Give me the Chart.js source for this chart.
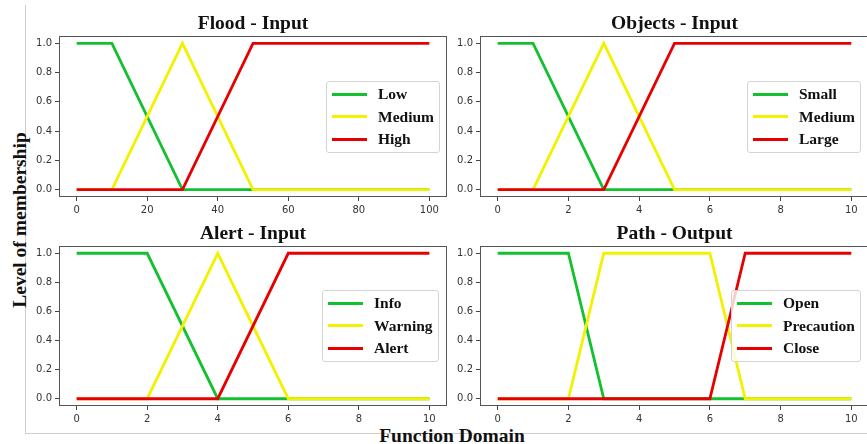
<!DOCTYPE html>
<html>
<head>
<meta charset="utf-8">
<script src="https://cdn.jsdelivr.net/npm/chart.js@4"></script>
<style>
  html, body { margin: 0; padding: 0; background: #fff; overflow: hidden; }
  #page { position: relative; width: 867px; height: 444px; overflow: hidden; }
  canvas { position: absolute; }
  .frameV { position: absolute; left: 25px; top: 5px; width: 1px; height: 428px; background: #cfcfcf; }
  .frameH { position: absolute; left: 25px; top: 433px; width: 842px; height: 1px; background: #cfcfcf; }
  .label { position: absolute; font-family: "Liberation Serif", serif; font-weight: bold; font-size: 19.5px; color: #111; white-space: nowrap; }
  .ylab { left: 20px; top: 220px; transform: translate(-50%, -50%) rotate(-90deg); }
  .xlab { left: 452px; top: 436px; transform: translate(-50%, -50%); }
  .legend { position: absolute; box-sizing: border-box; border: 1px solid #d4d4d4; border-radius: 3px;
            background: rgba(255, 255, 255, 0.8); padding: 1px 5px; font-family: "Liberation Serif", serif;
            font-weight: bold; font-size: 15.5px; color: #111; }
  .legend div { display: flex; align-items: center; height: 22.5px; white-space: nowrap; }
  .legend span.swatch { display: inline-block; width: 35px; height: 3px; margin-right: 11px; }
</style>
</head>
<body>
<div id="page">
  <div class="frameV"></div>
  <div class="frameH"></div>
  <div class="label ylab">Level of membership</div>
  <div class="label xlab">Function Domain</div>
</div>
<script>
// membership functions, sampled at their breakpoints
const floodX = [0, 10, 30, 50, 100];
const floodLow = [1, 1, 0, 0, 0];
const floodMedium = [0, 0, 1, 0, 0];
const floodHigh = [0, 0, 0, 1, 1];

const objectsX = [0, 1, 3, 5, 10];
const objectsSmall = [1, 1, 0, 0, 0];
const objectsMedium = [0, 0, 1, 0, 0];
const objectsLarge = [0, 0, 0, 1, 1];

const alertX = [0, 2, 4, 6, 10];
const alertInfo = [1, 1, 0, 0, 0];
const alertWarning = [0, 0, 1, 0, 0];
const alertAlert = [0, 0, 0, 1, 1];

const pathX = [0, 2, 3, 6, 7, 10];
const pathOpen = [1, 1, 0, 0, 0, 0];
const pathPrecaution = [0, 0, 1, 1, 0, 0];
const pathClose = [0, 0, 0, 0, 1, 1];

const ticks100 = [0, 20, 40, 60, 80, 100];
const ticks10 = [0, 2, 4, 6, 8, 10];
const ticksY = [0, 0.2, 0.4, 0.6, 0.8, 1.0];

const colores = ["#12c12f", "#f2f200", "#e60000"];

var page = document.getElementById("page");

// draws the four spines of the box
const marco = {
  id: "marco",
  afterDraw(chart) {
    let a = chart.chartArea;
    let c = chart.ctx;
    c.save();
    c.strokeStyle = "#555";
    c.lineWidth = 1;
    c.strokeRect(Math.round(a.left) + 0.5, Math.round(a.top) + 0.5,
                 Math.round(a.right - a.left) - 1, Math.round(a.bottom - a.top) - 1);
    c.restore();
  }
};

function serie(xs, ys) {
  return xs.map((x, i) => ({ x: x, y: ys[i] }));
}

function panel(titulo, xs, series, nombres, xTicks, xMin, xMax, frame, leyenda) {

  let canvas = document.createElement("canvas");
  let w = frame.r - frame.l + 45;
  let h = frame.b - frame.t + 32 + 22;
  canvas.width = w;
  canvas.height = h;
  canvas.style.left = (frame.l - 40) + "px";
  canvas.style.top = (frame.t - 32) + "px";
  page.appendChild(canvas);

  // last series on top, as in matplotlib
  let datasets = series.map((ys, i) => ({
    label: nombres[i],
    data: serie(xs, ys),
    order: series.length - 1 - i,
    borderColor: colores[i],
    backgroundColor: colores[i],
    borderWidth: 2.8,
    pointRadius: 0,
    tension: 0,
    fill: false
  }));

  new Chart(canvas, {
    type: "line",
    data: { datasets: datasets },
    options: {
      responsive: false,
      animation: false,
      events: [],
      layout: { padding: { left: 0, right: 5, top: 0, bottom: 0 } },
      plugins: {
        legend: { display: false },
        tooltip: { enabled: false },
        title: {
          display: true,
          text: titulo,
          fullSize: false,
          color: "#111",
          font: { family: "Liberation Serif", size: 19.5, weight: "bold", lineHeight: 1.2 },
          padding: { top: 8, bottom: 0.6 }
        }
      },
      scales: {
        x: {
          type: "linear",
          min: xMin,
          max: xMax,
          afterFit: s => { s.height = 22; },
          afterBuildTicks: s => { s.ticks = xTicks.map(v => ({ value: v })); },
          grid: { drawOnChartArea: false, drawTicks: true, tickLength: 4, color: "#444" },
          border: { display: false },
          ticks: { color: "#333", font: { family: "DejaVu Sans", size: 10 }, padding: 3, maxRotation: 0,
                   callback: v => String(v) }
        },
        y: {
          type: "linear",
          min: -0.05,
          max: 1.05,
          afterFit: s => { s.width = 40; },
          afterBuildTicks: s => { s.ticks = ticksY.map(v => ({ value: v })); },
          grid: { drawOnChartArea: false, drawTicks: true, tickLength: 4, color: "#444" },
          border: { display: false },
          ticks: { color: "#333", font: { family: "DejaVu Sans", size: 10 }, padding: 3,
                   callback: v => Number(v).toFixed(1) }
        }
      }
    },
    plugins: [marco]
  });

  // legend box, like matplotlib's
  let caja = document.createElement("div");
  caja.className = "legend";
  caja.style.left = leyenda.l + "px";
  caja.style.top = leyenda.t + "px";
  caja.style.width = leyenda.w + "px";
  caja.style.height = "72px";
  for (let i = 0; i < nombres.length; i++) {
    let fila = document.createElement("div");
    let linea = document.createElement("span");
    linea.className = "swatch";
    linea.style.background = colores[i];
    fila.appendChild(linea);
    fila.appendChild(document.createTextNode(nombres[i]));
    caja.appendChild(fila);
  }
  page.appendChild(caja);
}

panel("Flood - Input", floodX, [floodLow, floodMedium, floodHigh], ["Low", "Medium", "High"],
  ticks100, -5, 105, { l: 59, t: 36, r: 447, b: 197 }, { l: 326, t: 81, w: 114 });

panel("Objects - Input", objectsX, [objectsSmall, objectsMedium, objectsLarge], ["Small", "Medium", "Large"],
  ticks10, -0.5, 10.5, { l: 480, t: 36, r: 869, b: 197 }, { l: 747, t: 81, w: 114 });

panel("Alert - Input", alertX, [alertInfo, alertWarning, alertAlert], ["Info", "Warning", "Alert"],
  ticks10, -0.5, 10.5, { l: 59, t: 246, r: 447, b: 406 }, { l: 322, t: 290, w: 117 });

panel("Path - Output", pathX, [pathOpen, pathPrecaution, pathClose], ["Open", "Precaution", "Close"],
  ticks10, -0.5, 10.5, { l: 480, t: 246, r: 869, b: 406 }, { l: 731, t: 290, w: 130 });
</script>
</body>
</html>
